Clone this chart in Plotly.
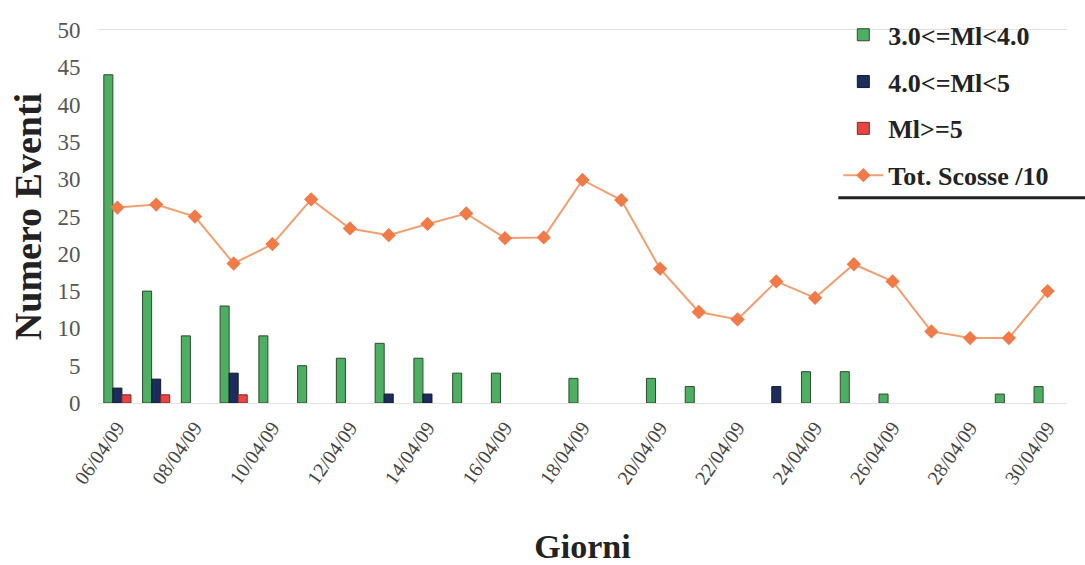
import plotly.graph_objects as go

dates = ["06/04/09", "07/04/09", "08/04/09", "09/04/09", "10/04/09", "11/04/09", "12/04/09",
         "13/04/09", "14/04/09", "15/04/09", "16/04/09", "17/04/09", "18/04/09", "19/04/09",
         "20/04/09", "21/04/09", "22/04/09", "23/04/09", "24/04/09", "25/04/09", "26/04/09",
         "27/04/09", "28/04/09", "29/04/09", "30/04/09"]
ml_3_4 = [44, 15, 9, 13, 9, 5, 6, 8, 6, 4, 4, None, 3.3, None, 3.3, 2.2, None, None, 4.2, 4.2,
          1.2, None, None, 1.2, 2.2]
ml_4_5 = [2, 3.2, None, 4, None, None, None, 1.2, 1.2, None, None, None, None, None, None, None,
          None, 2.2, None, None, None, None, None, None, None]
ml_5 = [1.1, 1.1, None, 1.1, None, None, None, None, None, None, None, None, None, None, None,
        None, None, None, None, None, None, None, None, None, None]
tot_10 = [26.2, 26.6, 25.0, 18.7, 21.3, 27.3, 23.4, 22.5, 24.0, 25.4, 22.1, 22.2, 29.9, 27.2,
          18.0, 12.2, 11.2, 16.3, 14.1, 18.6, 16.3, 9.6, 8.7, 8.7, 15.0]
tick_labels = dates[::2]
y_ticks = [0, 5, 10, 15, 20, 25, 30, 35, 40, 45, 50]

serif = "Liberation Serif"
fig = go.Figure()
fig.add_trace(go.Bar(x=dates, y=ml_3_4, name="3.0<=Ml<4.0", legendgroup="a",
                     marker=dict(color="#4caf62", line=dict(color="#2f4a30", width=1))))
fig.add_trace(go.Bar(x=dates, y=ml_4_5, name="4.0<=Ml<5", legendgroup="b",
                     marker=dict(color="#1c2c5c", line=dict(color="#101a30", width=1))))
fig.add_trace(go.Bar(x=dates, y=ml_5, name="Ml>=5", legendgroup="c",
                     marker=dict(color="#e84440", line=dict(color="#7a2a2a", width=1))))
fig.add_trace(go.Scatter(x=dates, y=tot_10, name="Tot. Scosse /10", mode="lines+markers",
                         legendgroup="d",
                         line=dict(color="#f0a070", width=2),
                         marker=dict(symbol="diamond", size=11, color="#f07a48")))

fig.update_layout(
    width=1085, height=565,
    margin=dict(l=98, r=18, t=30, b=162, autoexpand=False),
    paper_bgcolor="white", plot_bgcolor="white",
    barmode="group", bargap=0.3, bargroupgap=0,
    font=dict(family=serif, color="#333333"),
    showlegend=True,
    legend=dict(x=0.764, xanchor="left", y=1.05, yanchor="top",
                font=dict(family=serif, size=26, color="#222222", weight="bold"),
                bgcolor="rgba(255,255,255,0)", tracegroupgap=10, itemwidth=40),
    xaxis=dict(type="category", tickmode="array", tickvals=tick_labels, ticktext=tick_labels,
               range=[-0.5, 24.5],
               tickangle=-55, tickfont=dict(family=serif, size=20, color="#444444"),
               showgrid=False, showline=True, mirror=True, linecolor="#e2e2e2", linewidth=1,
               ticks="outside", ticklen=4, tickcolor="rgba(0,0,0,0)",
               title=dict(text="<b>Giorni</b>", font=dict(family=serif, size=34, color="#222222"),
                          standoff=46)),
    yaxis=dict(range=[0, 50], tickvals=y_ticks, tickfont=dict(family=serif, size=23, color="#555555"),
               showgrid=False, zeroline=False, showline=False,
               ticks="outside", ticklen=12, tickcolor="rgba(0,0,0,0)",
               title=dict(text="<b>Numero Eventi</b>", font=dict(family=serif, size=38, color="#222222"),
                          standoff=4)),
)
fig.add_shape(type="line", xref="paper", yref="paper", x0=0.764, x1=1.02, y0=0.55, y1=0.55,
              line=dict(color="#222222", width=3))
fig.write_html("out.html")
